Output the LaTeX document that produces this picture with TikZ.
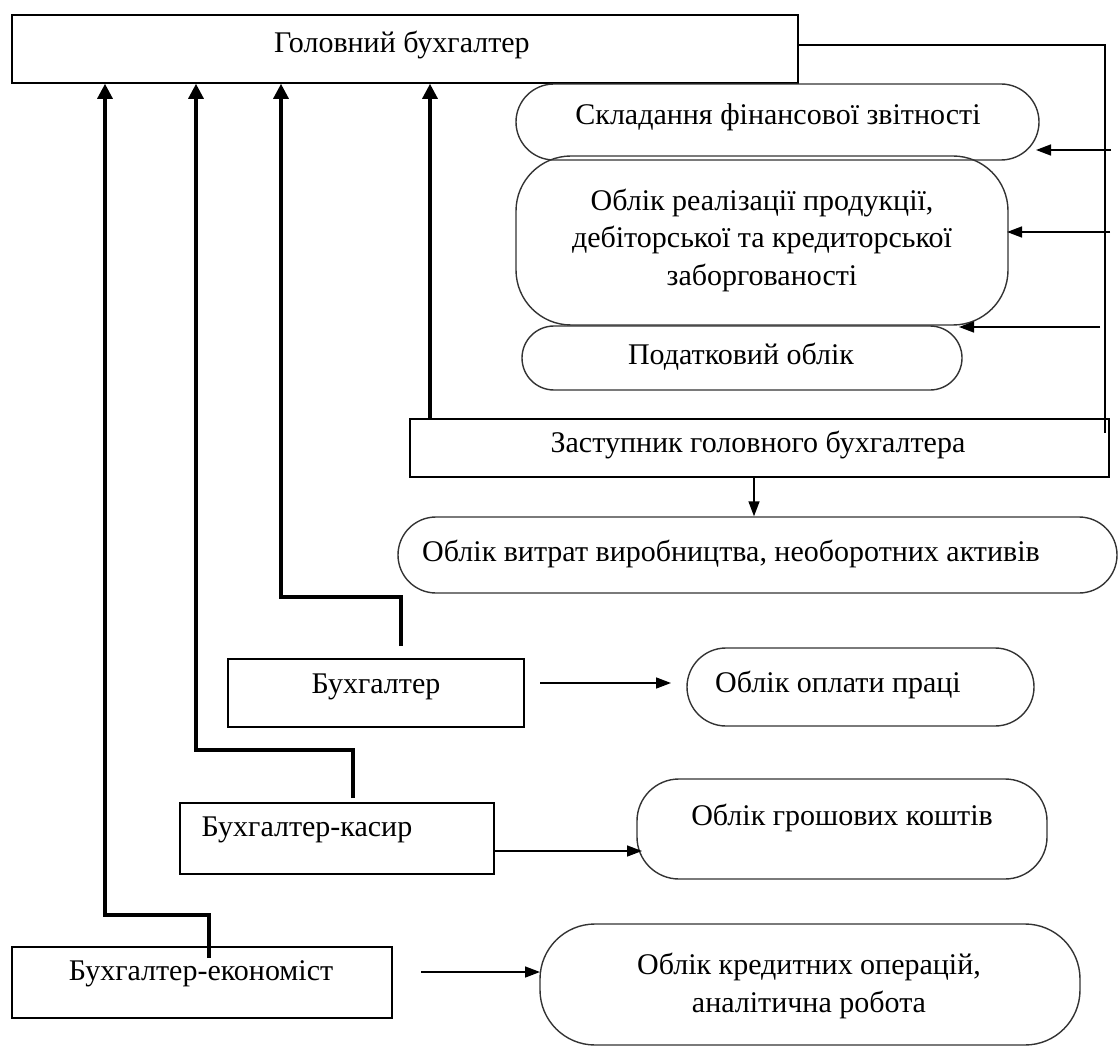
\documentclass[tikz,border=0pt]{standalone}
\usepackage{fontspec}
\setmainfont{Liberation Serif}
\usetikzlibrary{arrows.meta}
\begin{document}
\begin{tikzpicture}[x=1pt,y=-1pt,
  box/.style={draw, line width=1.6pt, inner sep=0pt},
  rbox/.style={draw=black!80, line width=1.4pt, inner sep=0pt, rounded corners=#1},
  txt/.style={inner sep=0pt, font=\fontsize{30}{37.5}\selectfont, align=center},
  thk/.style={line width=3.2pt, -{Triangle[length=15pt,width=15pt]}},
  thn/.style={line width=1.5pt, -{Triangle[length=15pt,width=11pt]}},
  ln/.style={line width=1.5pt}]
\useasboundingbox[fill=white] (0,0) rectangle (1118,1048);

% boxes
\node[box, minimum width=786pt, minimum height=68pt] (main) at (405,49) {};
\node[rbox=38, minimum width=523pt, minimum height=76pt] (sklad) at (777.5,122) {};
\node[rbox=55, minimum width=492pt, minimum height=169pt] (real) at (762,240.5) {};
\node[rbox=32, minimum width=440pt, minimum height=64pt] (podat) at (742,358) {};
\node[box, minimum width=699pt, minimum height=58pt] (zast) at (759.5,448) {};
\node[rbox=38, minimum width=719pt, minimum height=76pt] (vytr) at (757.5,555) {};
\node[box, minimum width=296pt, minimum height=68pt] (buh) at (376,693) {};
\node[rbox=39, minimum width=347pt, minimum height=78pt] (opl) at (860.5,687) {};
\node[box, minimum width=314pt, minimum height=71pt] (kas) at (337,838.5) {};
\node[rbox=42, minimum width=410pt, minimum height=100pt] (grosh) at (842,829) {};
\node[box, minimum width=380pt, minimum height=71pt] (econ) at (202,982.5) {};
\node[rbox=55, minimum width=540pt, minimum height=121pt] (kred) at (810,984.5) {};

% texts
\node[txt] (tmain) at (402,45) {Головний бухгалтер};
\node[txt] (tsklad) at (778,117) {Складання фінансової звітності};
\node[txt] (treal) at (762,240) {Облік реалізації продукції,\\дебіторської та кредиторської\\заборгованості};
\node[txt] (tpodat) at (741,357) {Податковий облік};
\node[txt] (tzast) at (758,445) {Заступник головного бухгалтера};
\node[txt] (tvytr) at (731,554) {Облік витрат виробництва, необоротних активів};
\node[txt] (tbuh) at (376,687) {Бухгалтер};
\node[txt] (topl) at (838,685) {Облік оплати праці};
\node[txt] (tkas) at (307,830) {Бухгалтер-касир};
\node[txt] (tgrosh) at (842,818) {Облік грошових коштів};
\node[txt] (tecon) at (201,974) {Бухгалтер-економіст};
\node[txt] (tkred) at (809,986) {Облік кредитних операцій,\\аналітична робота};

% thick subordination lines
\coordinate (eS) at (209,958); \coordinate (eT) at (105,915);
\draw[thk] (eS) |- (eT) -- (eT |- main.south);
\coordinate (kS) at (353,798); \coordinate (kT) at (196,750);
\draw[thk] (kS) |- (kT) -- (kT |- main.south);
\coordinate (bS) at (401,646); \coordinate (bT) at (281,597);
\draw[thk] (bS) |- (bT) -- (bT |- main.south);
\coordinate (zT) at (430,419);
\draw[thk] (zT |- zast.north) -- (zT |- main.south);

% right line
\coordinate (rT) at (1105,45); \coordinate (rB) at (1105,433);
\draw[ln] (rT -| main.east) -- (rT) -- (rB);
\coordinate (a1) at (1111,150); \coordinate (a1e) at (1036,150);
\coordinate (a2) at (1110,232); \coordinate (a2e) at (1007,232);
\coordinate (a3) at (1100,327); \coordinate (a3e) at (959,327);
\draw[thn] (a1) -- (a1e);
\draw[thn] (a2) -- (a2e);
\draw[thn] (a3) -- (a3e);

% zast -> vytr
\draw[thn] ([xshift=-5.5pt]zast.south) -- ([xshift=-5.5pt]zast.south |- vytr.north);

% horizontal arrows
\coordinate (h1) at (540,683); \coordinate (h1e) at (671,683);
\draw[thn] (h1) -- (h1e);
\coordinate (h2) at (494,851); \coordinate (h2e) at (642,851);
\draw[thn] (h2) -- (h2e);
\coordinate (h3) at (421,972); \coordinate (h3e) at (540,972);
\draw[thn] (h3) -- (h3e);
\end{tikzpicture}
\end{document}
